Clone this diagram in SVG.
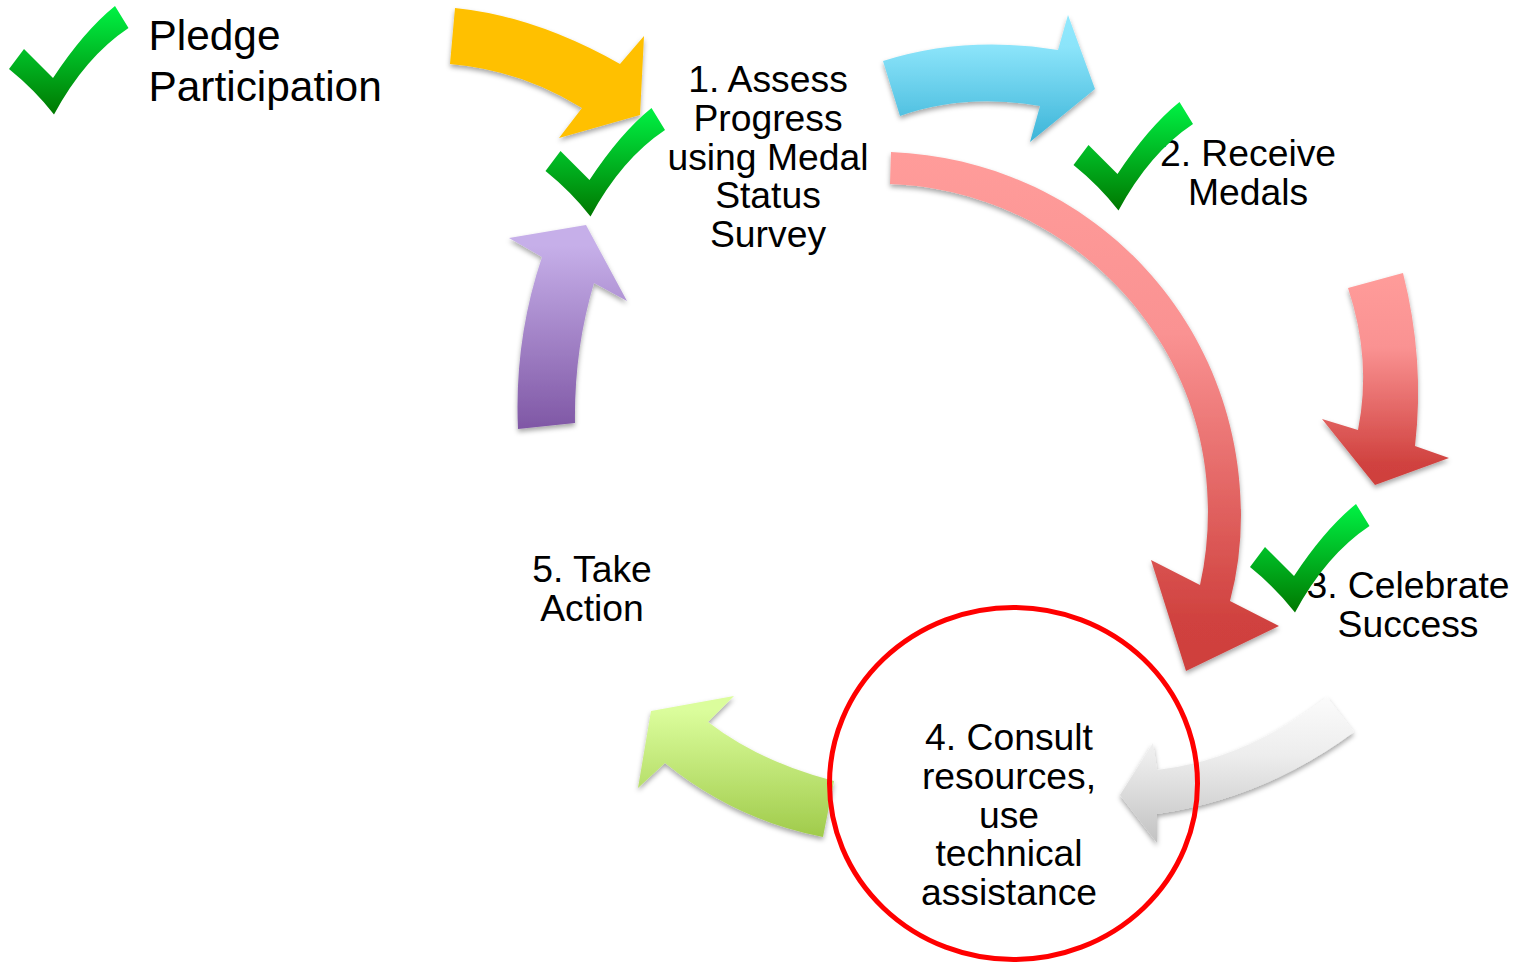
<svg xmlns="http://www.w3.org/2000/svg" xmlns:xlink="http://www.w3.org/1999/xlink" width="1515" height="963" viewBox="0 0 1515 963">
<style>
text{font-family:"Liberation Sans",Arial,sans-serif;fill:#000;text-anchor:middle;font-size:37.300px}
.left{text-anchor:start;font-size:42.400px}
.arrow{filter:url(#sh)}
</style>
<defs>
<filter id="sh" x="-15%" y="-15%" width="130%" height="130%"><feDropShadow dx="0" dy="3" stdDeviation="2.5" flood-color="#000" flood-opacity="0.35"/></filter>
<linearGradient id="gc" x1="0" y1="0" x2="0" y2="1"><stop offset="0" stop-color="#00F244"/><stop offset="1" stop-color="#007800"/></linearGradient>
<linearGradient id="gb" x1="0" y1="0" x2="0" y2="1"><stop offset="0" stop-color="#91E9FE"/><stop offset="0.25" stop-color="#8BE4FA"/><stop offset="1" stop-color="#3CB4D8"/></linearGradient>
<linearGradient id="gr" x1="0" y1="0" x2="0" y2="1"><stop offset="0" stop-color="#FF9C9A"/><stop offset="0.35" stop-color="#FA9292"/><stop offset="0.9" stop-color="#D0423F"/><stop offset="1" stop-color="#CF3F3D"/></linearGradient>
<linearGradient id="gg" x1="0" y1="0" x2="0" y2="1"><stop offset="0" stop-color="#FBFBFB"/><stop offset="0.4" stop-color="#EDEDED"/><stop offset="1" stop-color="#C2C2C2"/></linearGradient>
<linearGradient id="gl" x1="0" y1="0" x2="0" y2="1"><stop offset="0.1" stop-color="#DBFD9C"/><stop offset="1" stop-color="#A0CB4B"/></linearGradient>
<linearGradient id="gp" x1="0" y1="0" x2="0" y2="1"><stop offset="0.1" stop-color="#C6AFE9"/><stop offset="1" stop-color="#7F57A5"/></linearGradient>
<path id="check" fill="url(#gc)" d="M115 6L128.500 28Q85 57 54 114.500Q35 90 9 69L24 49L53 78Q84 31 115 6Z"/>
</defs>
<g id="connectors">
<path id="arrow-start" class="arrow" fill="#FFC000" d="M455 8Q535 16 620 64L644 36L640 115L559 138L582 108Q520 70 450 64Z"/>
<path id="arrow-1-2" class="arrow" fill="url(#gb)" d="M883 61Q965 35 1058 50L1068 15L1095 89L1030 142L1040 106Q965 93 900 116Z"/>
<path id="arrow-1-4" class="arrow" fill="url(#gr)" d="M891 152C1090 160 1241 320 1241 515Q1241 560 1230 601L1279 626L1186 671L1151 560L1200 585Q1208 550 1208 510C1208 330 1060 190 890 184Z"/>
<path id="arrow-2-3" class="arrow" fill="url(#gr)" d="M1348 288L1403 273Q1425 360 1415 446L1449 458L1375 485L1322 419L1358 430Q1372 360 1348 288Z"/>
<path id="arrow-3-4" class="arrow" fill="url(#gg)" d="M1327 697L1354 732Q1265 798 1157 814L1157 843L1120 795L1153 743L1157 770Q1245 760 1327 697Z"/>
<path id="arrow-4-5" class="arrow" fill="url(#gl)" d="M834 781L823 837Q735 820 665 763L638 788L651 711L734 696L708 722Q760 762 834 781Z"/>
<path id="arrow-5-1" class="arrow" fill="url(#gp)" d="M518 429Q514 340 542 257L509 238L586 225L627 301L594 283Q574 350 575 423Z"/>
</g>
<g id="node-pledge">
<use href="#check" xlink:href="#check"/>
<text class="left" x="148.500" y="50">Pledge</text>
<text class="left" x="148.500" y="101">Participation</text>
</g>
<g id="node-1">
<text x="768" y="92">1. Assess</text>
<text x="768" y="131">Progress</text>
<text x="768" y="170">using Medal</text>
<text x="768" y="208">Status</text>
<text x="768" y="247">Survey</text>
<use href="#check" xlink:href="#check" transform="translate(536.500 102)"/>
</g>
<g id="node-2">
<text x="1248" y="166">2. Receive</text>
<text x="1248" y="205">Medals</text>
<use href="#check" xlink:href="#check" transform="translate(1064.500 96)"/>
</g>
<g id="node-3">
<text x="1408" y="598">3. Celebrate</text>
<text x="1408" y="637">Success</text>
<use href="#check" xlink:href="#check" transform="translate(1241 498)"/>
</g>
<g id="node-4">
<text x="1009" y="750">4. Consult</text>
<text x="1009" y="789">resources,</text>
<text x="1009" y="828">use</text>
<text x="1009" y="866">technical</text>
<text x="1009" y="905">assistance</text>
<ellipse cx="1013.500" cy="783.500" rx="184" ry="176" fill="none" stroke="#F00" stroke-width="5"/>
</g>
<g id="node-5">
<text x="592" y="582">5. Take</text>
<text x="592" y="621">Action</text>
</g>
</svg>
